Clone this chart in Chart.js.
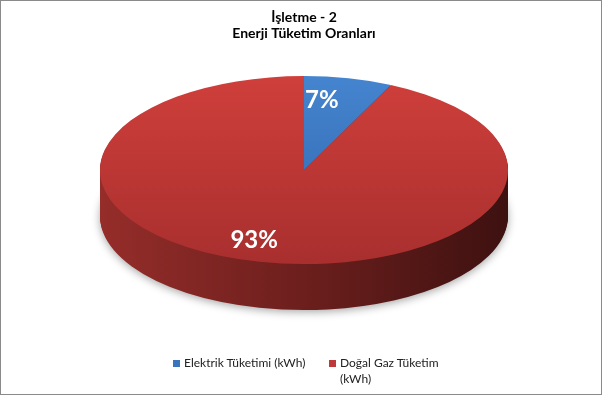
<!DOCTYPE html>
<html><head><meta charset="utf-8">
<script src="https://cdn.jsdelivr.net/npm/chart.js@4/dist/chart.umd.min.js"></script>
<style>
html,body{margin:0;padding:0;background:#fff;}
#wrap{position:relative;width:602px;height:396px;overflow:hidden;}
#frame{position:absolute;left:0;top:0;width:600px;height:393px;border:1px solid #8a8a8a;pointer-events:none;}
#legend{position:absolute;top:355px;left:0;width:602px;height:40px;font-family:Lato,sans-serif;font-size:12px;color:#222;}
.item{position:absolute;top:0;display:flex;align-items:flex-start;line-height:16px}
.sw{width:7px;height:7px;margin:5px 4px 0 0;flex:none}
</style></head><body>
<div id="wrap"><canvas id="c" width="602" height="396"></canvas><div id="legend"></div><div id="frame"></div></div>
<script>
const titleLines = ['İşletme - 2', 'Enerji Tüketim Oranları'];
const categories = ['Elektrik Tüketimi (kWh)', 'Doğal Gaz Tüketim (kWh)'];
const shares = [7, 93];
const pctLabels = ['7%', '93%'];

const topColors = [['#4584cf', '#2f66ab'], ['#cf3f3b', '#a82f2e']];
const sideColors = [['#2b5a92', '#1b3a60'], ['#952d2a', '#6c1f1d', '#3d1110']];
const swatchColors = ['#3a74bd', '#c0393a'];

const RX = 204, RY = 94, DEPTH = 46, LABEL_R = 0.76, LABEL_DX = -16;

function topFill(c) {
  const k = c.dataIndex || 0;
  const a = c.chart.chartArea;
  if (!a) return topColors[k][0];
  const g = c.chart.ctx.createLinearGradient(0, a.top, 0, a.bottom);
  g.addColorStop(0, topColors[k][0]);
  g.addColorStop(1, topColors[k][1]);
  return g;
}

const pie3d = {
  id: 'pie3d',
  beforeDatasetsDraw(chart) {
    const ctx = chart.ctx, meta = chart.getDatasetMeta(0), a0 = meta.data[0];
    const cx = a0.x, cy = a0.y, R = a0.outerRadius;
    const sx = RX / R, sy = RY / R;
    chart.$t = { cx, cy, R, sx, sy };
    const grads = sideColors.map(cols => {
      const g = ctx.createLinearGradient(cx - R, 0, cx + R, 0);
      cols.forEach((c, i) => g.addColorStop(i / (cols.length - 1), c));
      return g;
    });
    for (let i = DEPTH; i >= 1; i--) {
      ctx.save();
      if (i === DEPTH) { ctx.shadowColor = 'rgba(0,0,0,0.35)'; ctx.shadowBlur = 8; ctx.shadowOffsetY = 2; }
      ctx.translate(cx, cy + i); ctx.scale(sx, sy); ctx.translate(-cx, -cy);
      meta.data.forEach((el, k) => {
        const o = el.options;
        el.options = Object.assign({}, o, { backgroundColor: grads[k], borderWidth: 0 });
        el.draw(ctx);
        el.options = o;
      });
      ctx.restore();
    }
    ctx.save();
    ctx.translate(cx, cy); ctx.scale(sx, sy); ctx.translate(-cx, -cy);
  },
  afterDatasetsDraw(chart) {
    const ctx = chart.ctx;
    ctx.restore();
    const t = chart.$t, meta = chart.getDatasetMeta(0);
    ctx.save();
    ctx.fillStyle = '#ffffff';
    ctx.font = 'bold 24px Lato, sans-serif';
    ctx.textAlign = 'center'; ctx.textBaseline = 'middle';
    meta.data.forEach((el, k) => {
      const mid = (el.startAngle + el.endAngle) / 2;
      const x = t.cx + t.sx * t.R * LABEL_R * Math.cos(mid) + LABEL_DX;
      const y = t.cy + t.sy * t.R * LABEL_R * Math.sin(mid);
      ctx.fillText(pctLabels[k], x, y);
    });
    ctx.restore();
  }
};

new Chart(document.getElementById('c'), {
  type: 'pie',
  data: {
    labels: categories,
    datasets: [{
      data: shares,
      backgroundColor: topFill,
      borderWidth: 0,
      clip: false
    }]
  },
  options: {
    responsive: false,
    devicePixelRatio: 1,
    animation: false,
    layout: { padding: { left: 6, bottom: 97 } },
    plugins: {
      legend: { display: false },
      tooltip: { enabled: false },
      title: {
        display: true,
        text: titleLines,
        color: '#000',
        font: { family: 'Lato, sans-serif', size: 14, weight: 'bold', lineHeight: 1.15 },
        padding: { top: 9, bottom: 0 }
      }
    }
  },
  plugins: [pie3d]
});

// HTML legend (wraps like the original)
const legendPos = [{ left: 173, width: 150 }, { left: 329, width: 120 }];
const lg = document.getElementById('legend');
categories.forEach((c, i) => {
  const d = document.createElement('div');
  d.className = 'item';
  d.style.left = legendPos[i].left + 'px';
  d.style.width = legendPos[i].width + 'px';
  const s = document.createElement('span');
  s.className = 'sw'; s.style.background = swatchColors[i];
  const tx = document.createElement('span');
  tx.textContent = c;
  d.appendChild(s); d.appendChild(tx);
  lg.appendChild(d);
});
</script>
</body></html>
